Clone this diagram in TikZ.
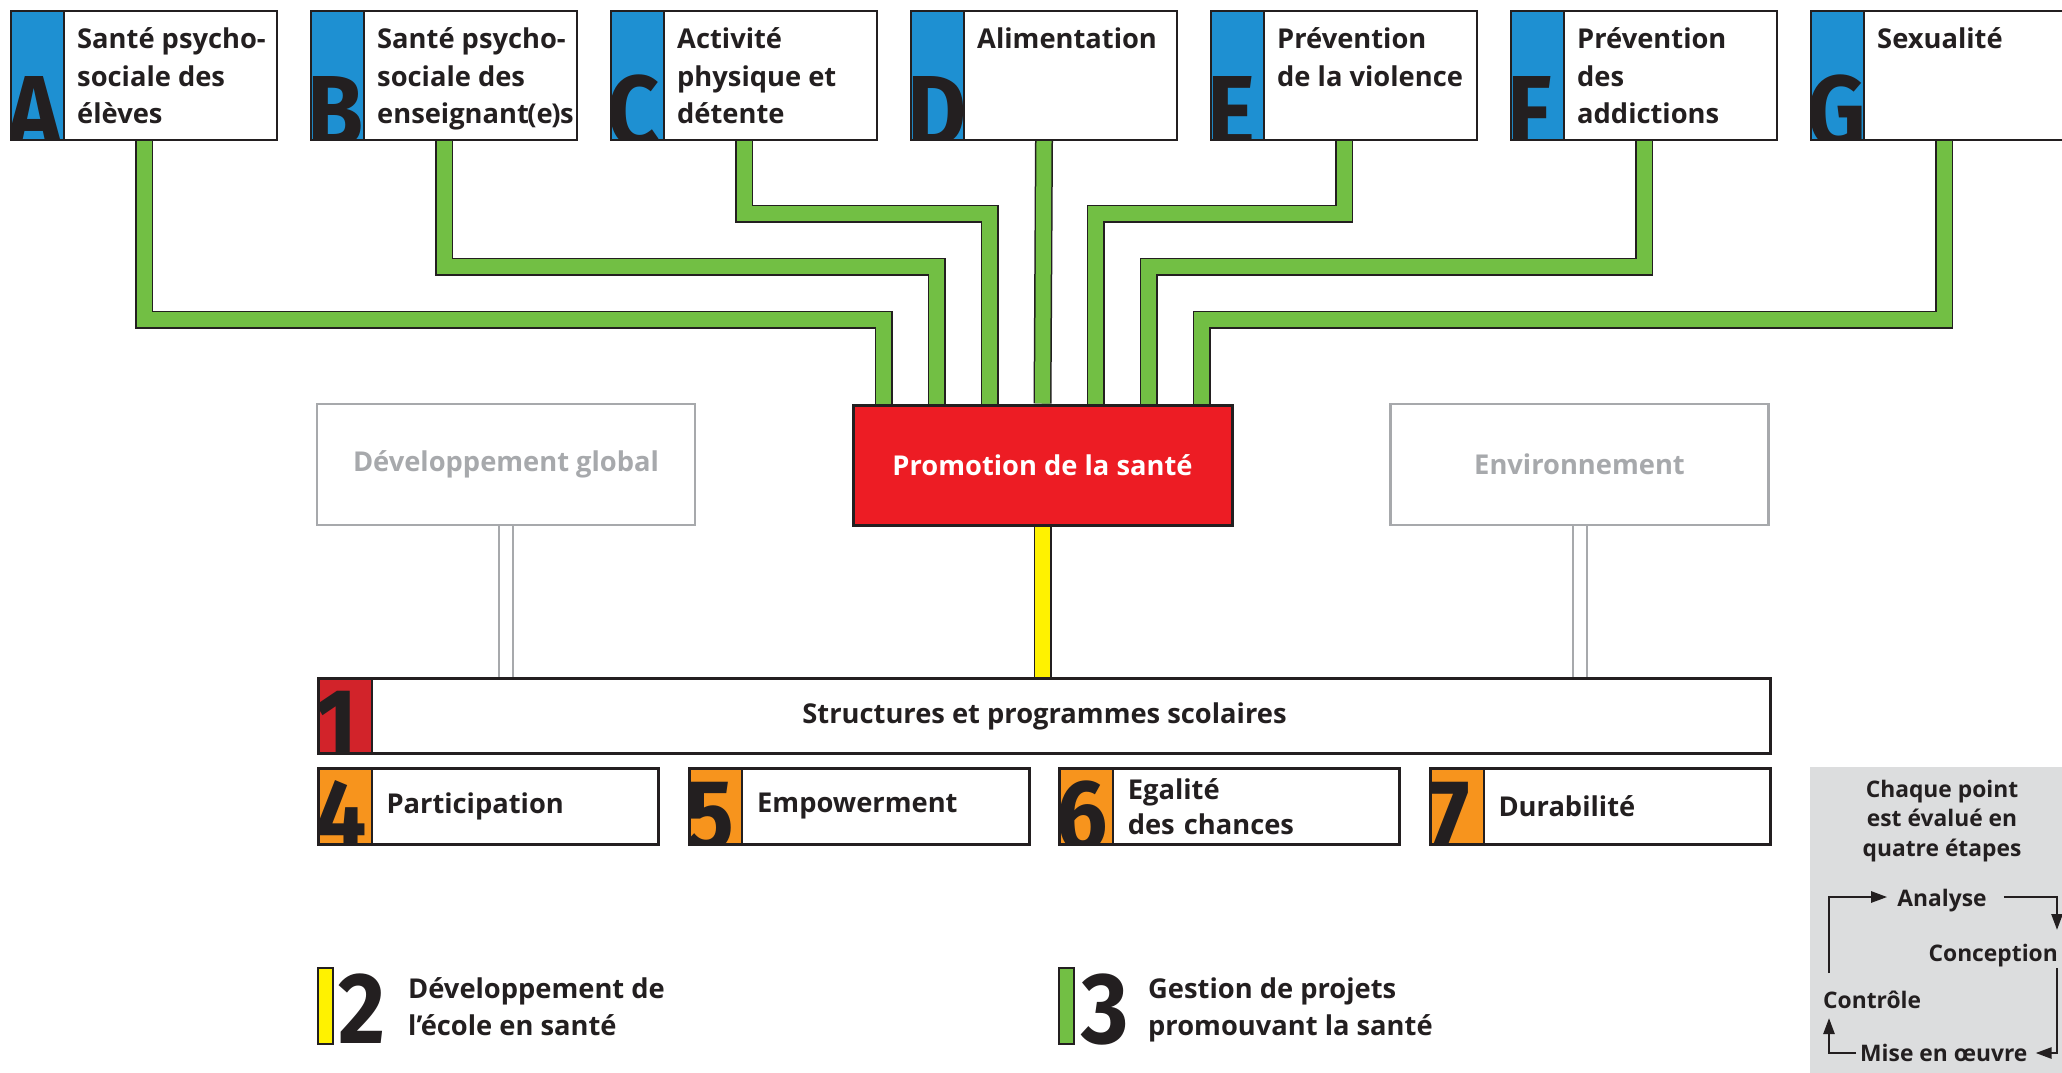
\documentclass[tikz,border=0pt]{standalone}
\usepackage{fontspec}
\setmainfont{Open Sans}
\newfontfamily\markfont{Fira Sans}
\usetikzlibrary{arrows.meta,backgrounds}

\definecolor{ink}{RGB}{35,31,32}
\definecolor{topicblue}{RGB}{30,144,210}
\definecolor{bandgreen}{RGB}{114,191,68}
\definecolor{bandyellow}{RGB}{255,242,0}
\definecolor{promored}{RGB}{237,28,36}
\definecolor{markred}{RGB}{210,35,42}
\definecolor{markorange}{RGB}{247,148,29}
\definecolor{softgray}{RGB}{167,169,172}
\definecolor{panelgray}{RGB}{220,221,222}

\newcommand{\boxfont}{\fontsize{27.3}{37.5}\selectfont\bfseries}

\tikzset{
  bigmark/.style={inner sep=0pt, minimum width=0pt, minimum height=0pt, text width={}, text=ink,
    font=\fontsize{101}{101}\markfont\bfseries},
  striped/.style 2 args={path picture={
      \begin{scope}
        \clip (path picture bounding box.north west) rectangle ([xshift=53pt]path picture bounding box.south west);
        \fill[#1] (path picture bounding box.north west) rectangle ([xshift=53pt]path picture bounding box.south west);
        \node[bigmark, anchor=base west] (mark#2) at ([xshift=-5pt,yshift=-6pt]path picture bounding box.south west) {\scalebox{0.9}[1]{#2}};
      \end{scope}
      \draw[ink, line width=2pt] ([xshift=53pt]path picture bounding box.north west) -- ([xshift=53pt]path picture bounding box.south west);
    }},
  topic/.style={draw=ink, line width=2pt, fill=white, anchor=north west, inner sep=0pt,
    minimum width=266pt, minimum height=129pt, striped={topicblue}{#1}},
  topictext/.style={anchor=base west, align=left, inner sep=0pt, text=ink, font=\boxfont},
  band/.style={draw=ink, line width=1.5pt, double=#1, double distance=15pt},
  hub/.style={draw=ink, line width=3pt, fill=promored, text=white, inner sep=0pt,
    minimum width=379pt, minimum height=120pt, font=\boxfont},
  ghost/.style={draw=softgray, line width=2.5pt, fill=white, text=softgray, inner sep=0pt,
    minimum width=378pt, minimum height=121pt, font=\boxfont},
  tie/.style={draw=softgray, line width=2pt, double=white, double distance=12pt},
  pillar/.style={draw=ink, line width=3pt, fill=white, anchor=north west, inner sep=0pt,
    minimum height=76pt, text=ink, font=\boxfont},
  value/.style={pillar, minimum width=340pt, text width=204pt, align=left,
    font=\fontsize{27.3}{35.5}\selectfont\bfseries, striped={markorange}{#1}},
  legbar/.style={draw=ink, line width=2pt, anchor=north west, inner sep=0pt, minimum width=15pt, minimum height=76pt},
  legtext/.style={anchor=base west, align=left, inner sep=0pt, text=ink, font=\boxfont},
  steptext/.style={inner sep=0pt, text=ink, font=\fontsize{22.8}{29.5}\selectfont\bfseries},
  loopline/.style={draw=ink, line width=2.5pt, -{Triangle[length=16pt,width=11pt]}},
}

\begin{document}
\begin{tikzpicture}[x=1pt, y=-1pt]
  \useasboundingbox (0,0) rectangle (2062,1073);
  \clip (0,0) rectangle (2062,1073);

  \foreach \n [count=\i from 0] in {A,B,C,D,E,F,G}
    \node[topic=\n] (\n) at (10+300*\i,10) {};

  \node[topictext] (tA) at ([xshift=67pt,yshift=-113.5pt]A.north west) {Santé psycho-\\sociale des\\élèves};
  \node[topictext] (tB) at ([xshift=67pt,yshift=-113.5pt]B.north west) {Santé psycho-\\sociale des\\enseignant\kern-1.5pt(e\kern-1.5pt)\kern-0.5pt s};
  \node[topictext] (tC) at ([xshift=67pt,yshift=-113.5pt]C.north west) {Activité\\physique et\\détente};
  \node[topictext] (tD) at ([xshift=67pt,yshift=-38.5pt]D.north west) {Alimentation};
  \node[topictext] (tE) at ([xshift=67pt,yshift=-76pt]E.north west) {Prévention\\de la violence};
  \node[topictext] (tF) at ([xshift=67pt,yshift=-113.5pt]F.north west) {Prévention\\des\\addictions};
  \node[topictext] (tG) at ([xshift=67pt,yshift=-38.5pt]G.north west) {Sexualité};

  \node[hub] (promo) at (1042.5,465) {Promotion de la santé};
  \node[ghost] (devg) at (506,464.5) {Développement global};
  \node[ghost] (env) at (1579.5,464.5) {Environnement};

  \node[pillar, minimum width=1452pt, minimum height=75pt, striped={markred}{1}] (struct) at (317,677) {Structures et programmes scolaires};
  \node[value=4] (part) at (317,767) {Participation};
  \node[value=5] (emp) at (687.7,767) {Empowerment};
  \node[value=6] (equ) at (1058.3,767) {Egalité\\des chances};
  \node[value=7] (dur) at (1429,767) {Durabilité};

  \node[legbar, fill=bandyellow] (bar2) at (317,967) {};
  \node[bigmark, anchor=base west] (two) at (338,1043) {\scalebox{0.9}[1]{2}};
  \node[legtext] (leg2) at (408,1035.5) {Développement de\\l’école en santé};
  \node[legbar, fill=bandgreen] (bar3) at (1058,967) {};
  \node[bigmark, anchor=base west] (three) at (1081,1043) {\scalebox{0.9}[1]{3}};
  \node[legtext] (leg3) at (1148,1035.5) {Gestion de projets\\promouvant la santé};

  \fill[panelgray] (1810,767) rectangle (2062,1073);
  \node[steptext, align=center, anchor=base] (head) at (1942,856) {Chaque point\\est évalué en\\quatre étapes};
  \node[steptext, anchor=base] (ana) at (1942,906) {Analyse};
  \node[steptext, anchor=base east] (con) at (2058,961) {Conception};
  \node[steptext, anchor=base west] (ctrl) at (1823,1008) {Contrôle};
  \node[steptext, anchor=base west] (mise) at (1860,1061) {Mise en œuvre};

  \draw[loopline] ([xshift=6pt,yshift=35pt]ctrl.base west) |- ([xshift=-10pt,yshift=9pt]ana.base west);
  \draw[loopline] ([xshift=17pt,yshift=9pt]ana.base east) -| ([xshift=-1pt,yshift=31pt]con.base east);
  \draw[loopline] ([xshift=-1pt,yshift=-7pt]con.base east) |- ([xshift=8pt,yshift=8pt]mise.base east);
  \draw[loopline] ([xshift=-4pt,yshift=8pt]mise.base west) -| ([xshift=6pt,yshift=-10pt]ctrl.base west);

  \begin{scope}[on background layer]
    \foreach \n/\dx/\dy in {A/-159/84, B/-106/137, C/-53/190, E/53/190, F/106/137, G/159/84}
      \draw[band=bandgreen] (\n.south) |- ([xshift=\dx pt,yshift=\dy pt]promo.north) -- ([xshift=\dx pt]promo.north);
    \draw[band=bandgreen] (D.south) -- (promo.north);
    \draw[band=bandyellow] (promo.south) -- (struct.north -| promo.south);
    \draw[tie] (devg.south) -- (devg.south |- struct.north);
    \draw[tie] (env.south) -- (env.south |- struct.north);
  \end{scope}
\end{tikzpicture}
\end{document}
